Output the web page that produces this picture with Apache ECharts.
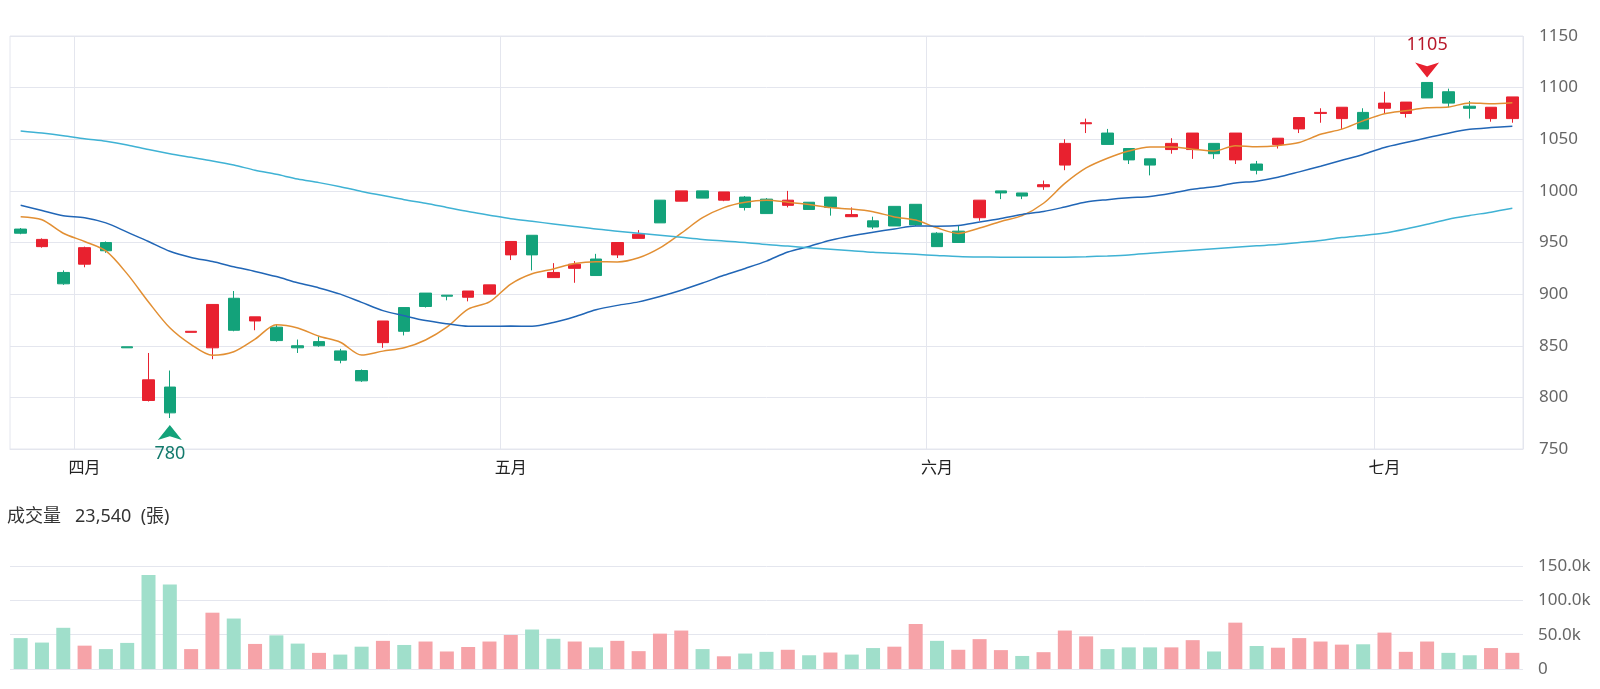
<!DOCTYPE html>
<html>
<head>
<meta charset="utf-8">
<title>K線圖</title>
<script src="https://cdn.jsdelivr.net/npm/echarts@6/dist/echarts.min.js"></script>
<style>
html, body { margin: 0; padding: 0; background: #fff; }
#grafico_k { width: 1600px; height: 689px; }
</style>
</head>
<body>
<div id="grafico_k"></div>
<script>
const fechas = [
  '2025-03-27', '2025-03-28', '2025-03-31',
  '2025-04-01', '2025-04-02', '2025-04-07', '2025-04-08', '2025-04-09', '2025-04-10', '2025-04-11',
  '2025-04-14', '2025-04-15', '2025-04-16', '2025-04-17', '2025-04-18', '2025-04-21', '2025-04-22',
  '2025-04-23', '2025-04-24', '2025-04-25', '2025-04-28', '2025-04-29', '2025-04-30',
  '2025-05-02', '2025-05-05', '2025-05-06', '2025-05-07', '2025-05-08', '2025-05-09', '2025-05-12',
  '2025-05-13', '2025-05-14', '2025-05-15', '2025-05-16', '2025-05-19', '2025-05-20', '2025-05-21',
  '2025-05-22', '2025-05-23', '2025-05-26', '2025-05-27', '2025-05-28', '2025-05-29',
  '2025-06-02', '2025-06-03', '2025-06-04', '2025-06-05', '2025-06-06', '2025-06-09', '2025-06-10',
  '2025-06-11', '2025-06-12', '2025-06-13', '2025-06-16', '2025-06-17', '2025-06-18', '2025-06-19',
  '2025-06-20', '2025-06-23', '2025-06-24', '2025-06-25', '2025-06-26', '2025-06-27', '2025-06-30',
  '2025-07-01', '2025-07-02', '2025-07-03', '2025-07-04', '2025-07-07', '2025-07-08', '2025-07-09'
]

const aperturas = [963, 946, 921, 929, 950, 849, 797, 810, 863, 848, 896, 874, 868, 850, 854, 845, 826, 853, 887, 901,
  899, 897, 900, 938, 957, 916, 925, 934, 938, 954, 991, 990, 1000, 991, 994, 992, 986, 989, 994, 975,
  971, 985, 987, 959, 961, 974, 1000, 998, 1004, 1025, 1065, 1056, 1041, 1031, 1040, 1040, 1046, 1030, 1026, 1045,
  1060, 1075, 1070, 1076, 1080, 1075, 1105, 1096, 1082, 1070, 1070]
const cierres = [959, 953, 910, 945, 942, 848, 817, 785, 864, 890, 865, 878, 855, 848, 850, 836, 816, 874, 864, 888,
  898, 903, 909, 951, 938, 921, 929, 918, 950, 958, 969, 1000, 993, 999, 984, 978, 991, 982, 984, 977,
  965, 966, 967, 946, 950, 991, 998, 995, 1006, 1046, 1066, 1045, 1030, 1025, 1046, 1056, 1036, 1056, 1020, 1051,
  1071, 1076, 1081, 1060, 1085, 1086, 1090, 1085, 1080, 1081, 1091]
const minimos = [958, 945, 909, 926, 940, 848, 796, 780, 863, 837, 864, 865, 854, 843, 849, 833, 815, 848, 860, 887,
  894, 893, 900, 933, 923, 916, 911, 918, 935, 954, 969, 990, 993, 990, 981, 978, 984, 982, 976, 975,
  963, 966, 966, 946, 950, 971, 992, 992, 1001, 1020, 1056, 1045, 1026, 1015, 1036, 1031, 1031, 1026, 1016, 1041,
  1056, 1066, 1060, 1060, 1075, 1071, 1090, 1081, 1070, 1067, 1066]
const maximos = [964, 954, 923, 946, 951, 849, 843, 826, 864, 890, 903, 878, 871, 856, 859, 847, 827, 874, 887, 901,
  899, 903, 909, 951, 957, 930, 932, 939, 950, 962, 991, 1000, 1000, 999, 995, 993, 1000, 989, 994, 984,
  975, 985, 987, 960, 966, 991, 1000, 998, 1010, 1050, 1070, 1060, 1041, 1031, 1051, 1056, 1046, 1056, 1029, 1051,
  1071, 1080, 1081, 1080, 1096, 1086, 1105, 1099, 1087, 1081, 1091]

const volumenes = [45000, 38500, 60000, 34000, 29000, 38000, 137000, 123000, 29000, 82000,
  73500, 36500, 49000, 37000, 23500, 21000, 32500, 41000, 35000, 40000,
  25500, 32000, 40000, 49500, 57500, 44000, 40000, 31500, 41000, 26000,
  51500, 56000, 29000, 18500, 22500, 25000, 28000, 20000, 24000, 21000,
  30500, 32500, 65500, 41000, 28000, 43500, 27500, 19000, 24500, 56000,
  47500, 29000, 31500, 31500, 31500, 42000, 25500, 67500, 33500, 31000,
  45000, 40000, 35500, 36000, 53000, 25000, 40000, 23500, 20000, 30500, 23540]

const ma5 = [975, 972, 959, 951, 941.8, 919.6, 892.4, 867.4, 851.2, 840.8,
  844.2, 856.4, 870.4, 867.2, 859.2, 853.4, 841, 844.8, 848, 855.6,
  868, 885.4, 892.4, 909.8, 919.8, 924.4, 929.6, 931.4, 931.2, 935.2,
  944.8, 959, 974, 983.8, 989, 990.8, 989, 986.8, 983.8, 982.4,
  979.8, 974.8, 971.8, 964.2, 958.8, 964, 970.4, 976, 988, 1007.2,
  1022.2, 1031.6, 1038.6, 1042.4, 1042.4, 1040.4, 1038.6, 1043.8, 1042.8, 1043.8,
  1046.8, 1054.8, 1059.8, 1067.8, 1074.6, 1077.6, 1080.4, 1081.2, 1085.2, 1084.4, 1085.4]
const ma20 = [986, 981, 976, 974, 969, 960, 951, 941.5, 935.5, 931.5,
  926.5, 922, 917, 911, 906, 900, 892, 884, 879, 874.4,
  871.3, 868.8, 868.8, 869.1, 868.9, 872.5, 878.1, 884.8, 889.1, 892.5,
  897.7, 903.8, 910.7, 918.2, 924.9, 932, 940.8, 946.2, 952.2, 956.6,
  960, 963.1, 966, 965.8, 966.4, 969.9, 973.3, 977.2, 980, 984.4,
  989.2, 991.5, 993.3, 994.6, 997.7, 1001.6, 1003.9, 1007.6, 1009.4, 1013.1,
  1018.4, 1023.9, 1029.6, 1035.3, 1042, 1046.8, 1051.4, 1055.9, 1059.6, 1061.3, 1062.6]
const ma60 = [1058, 1056, 1053.5, 1050.5, 1048, 1044.5, 1040, 1036, 1032.5, 1029,
  1025, 1020, 1016, 1011.5, 1008, 1004, 999.5, 995.5, 991.5, 988,
  984, 980, 976.5, 973, 970.5, 968, 965.5, 963, 961, 959,
  957, 955, 953, 951.5, 950, 948, 946.5, 945, 943.5, 942,
  940.5, 939.5, 938.5, 937.5, 936.5, 936, 935.8, 935.7, 935.7, 935.8,
  936.2, 937, 938, 939.5, 941, 942.5, 944, 945.5, 946.8, 948,
  949.9, 951.9, 954.8, 956.7, 959.1, 963, 967.6, 972.6, 976.2, 979.4, 983.1]

const meses = ['一月', '二月', '三月', '四月', '五月', '六月', '七月', '八月', '九月', '十月', '十一月', '十二月']
const ticksPrecio = [750, 800, 850, 900, 950, 1000, 1050, 1100, 1150]
const ticksVolumen = [0, 50000, 100000, 150000]

const rojo = '#e8212f'
const verde = '#13a27a'
const rojoVol = '#f6a3a8'
const verdeVol = '#a0dfcb'
const gris = '#e4e6ee'
const fuente = "'Noto Sans', 'Noto Sans CJK TC', sans-serif"

// first trading day of each month gets a label and a split line
function inicioMes(i) {
  return i > 0 && fechas[i].slice(5, 7) !== fechas[i - 1].slice(5, 7)
}

function miles(n) {
  return String(n).replace(/\B(?=(\d{3})+(?!\d))/g, ',')
}

const velas = fechas.map((f, i) => [aperturas[i], cierres[i], minimos[i], maximos[i]])

const barrasVol = volumenes.map((v, i) => {
  const ref = i > 0 ? cierres[i - 1] : aperturas[i]
  return {
    value: v,
    itemStyle: { color: cierres[i] >= ref ? rojoVol : verdeVol }
  }
})

const chart = echarts.init(document.getElementById('grafico_k'))

const option = {
  animation: false,
  textStyle: { fontFamily: fuente },
  title: {
    text: '成交量   ' + miles(volumenes[volumenes.length - 1]) + '  (張)',
    left: 7,
    top: 508,
    padding: 0,
    textStyle: { fontSize: 18, fontWeight: 'normal', color: '#333', fontFamily: fuente }
  },
  grid: [
    {
      left: 10, right: 77, top: 36, height: 413,
      show: true, borderColor: gris, borderWidth: 1
    },
    {
      left: 10, right: 77, top: 566, height: 103
    }
  ],
  xAxis: [
    {
      type: 'category',
      gridIndex: 0,
      data: fechas,
      boundaryGap: true,
      axisLine: { lineStyle: { color: gris } },
      axisTick: { show: false },
      axisLabel: {
        interval: i => inicioMes(i),
        formatter: v => meses[parseInt(v.slice(5, 7), 10) - 1],
        color: '#222',
        fontSize: 16,
        margin: 11,
        fontFamily: fuente
      },
      splitLine: {
        show: true,
        interval: i => inicioMes(i),
        lineStyle: { color: gris }
      }
    },
    {
      type: 'category',
      gridIndex: 1,
      data: fechas,
      boundaryGap: true,
      axisLine: { show: false },
      axisTick: { show: false },
      axisLabel: { show: false },
      splitLine: { show: false }
    }
  ],
  yAxis: [
    {
      type: 'value',
      gridIndex: 0,
      position: 'right',
      min: ticksPrecio[0],
      max: ticksPrecio[ticksPrecio.length - 1],
      interval: ticksPrecio[1] - ticksPrecio[0],
      axisLine: { show: false },
      axisTick: { show: false },
      axisLabel: {
        color: '#666',
        fontSize: 17,
        margin: 16,
        fontFamily: fuente,
        formatter: v => String(v)
      },
      splitLine: { lineStyle: { color: gris } }
    },
    {
      type: 'value',
      gridIndex: 1,
      position: 'right',
      min: ticksVolumen[0],
      max: ticksVolumen[ticksVolumen.length - 1],
      interval: ticksVolumen[1] - ticksVolumen[0],
      axisLine: { show: false },
      axisTick: { show: false },
      axisLabel: {
        color: '#666',
        fontSize: 17,
        margin: 15,
        fontFamily: fuente,
        formatter: v => (v === 0 ? '0' : (v / 1000).toFixed(1) + 'k')
      },
      splitLine: { lineStyle: { color: gris } }
    }
  ],
  series: [
    {
      name: 'K',
      type: 'candlestick',
      xAxisIndex: 0,
      yAxisIndex: 0,
      data: velas,
      barWidth: 12,
      itemStyle: {
        color: rojo,
        color0: verde,
        borderColor: rojo,
        borderColor0: verde,
        borderWidth: 1
      },
      markPoint: {
        data: [
          {
            type: 'max',
            valueDim: 'highest',
            symbol: 'arrow',
            symbolRotate: 180,
            symbolSize: [18, 15],
            symbolOffset: [0, -5],
            itemStyle: { color: rojo },
            label: {
              show: true,
              position: 'top',
              distance: 9,
              color: '#b8192b',
              fontSize: 18,
              fontFamily: fuente,
              formatter: '{c}'
            }
          },
          {
            type: 'min',
            valueDim: 'lowest',
            symbol: 'arrow',
            symbolSize: [18, 15],
            symbolOffset: [0, 7],
            itemStyle: { color: verde },
            label: {
              show: true,
              position: 'bottom',
              distance: 5,
              color: '#137a6c',
              fontSize: 18,
              fontFamily: fuente,
              formatter: '{c}'
            }
          }
        ]
      }
    },
    {
      name: 'MA5',
      type: 'line',
      data: ma5,
      showSymbol: false,
      smooth: 0.3,
      lineStyle: { width: 1.5, color: '#e28f33' },
      z: 3
    },
    {
      name: 'MA20',
      type: 'line',
      data: ma20,
      showSymbol: false,
      smooth: 0.3,
      lineStyle: { width: 1.5, color: '#2166b6' },
      z: 3
    },
    {
      name: 'MA60',
      type: 'line',
      data: ma60,
      showSymbol: false,
      smooth: 0.3,
      lineStyle: { width: 1.5, color: '#3fb2d4' },
      z: 3
    },
    {
      name: '成交量',
      type: 'bar',
      xAxisIndex: 1,
      yAxisIndex: 1,
      data: barrasVol,
      barWidth: 14
    }
  ]
}

chart.setOption(option)
</script>
</body>
</html>
